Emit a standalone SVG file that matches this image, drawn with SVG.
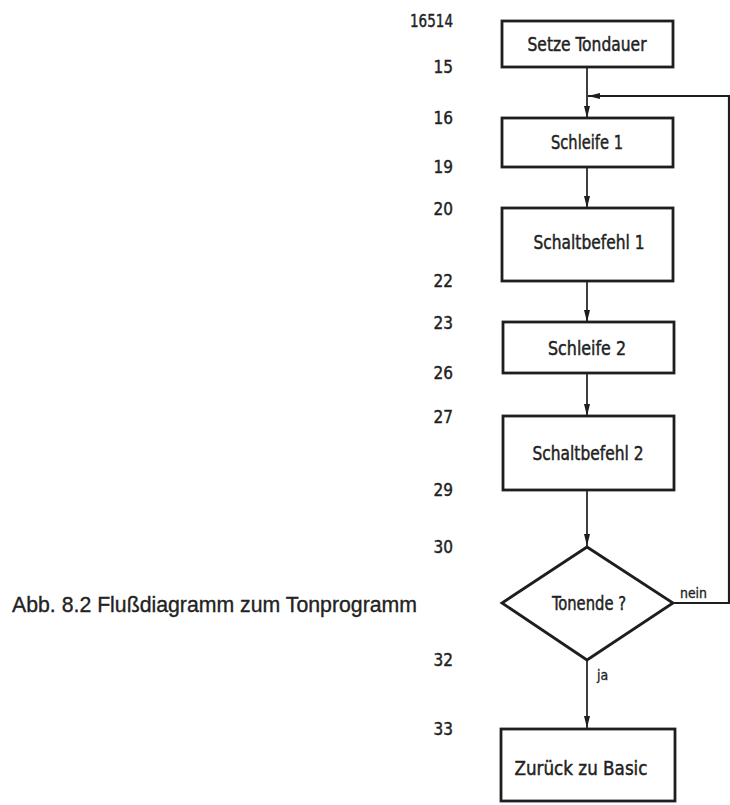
<svg xmlns="http://www.w3.org/2000/svg" width="730" height="805" viewBox="0 0 730 805">
  <style>
    .box { fill: #fff; stroke: #1e1e1e; stroke-width: 2.8; }
    .line { fill: none; stroke: #1e1e1e; stroke-width: 1.7; }
    .lbl { font-family: "DejaVu Sans Condensed", "DejaVu Sans", sans-serif; font-size: 20px; fill: #222; stroke: #222; stroke-width: 0.45; text-anchor: middle; }
    .num { font-family: "DejaVu Sans Condensed", "DejaVu Sans", sans-serif; font-size: 17px; fill: #222; stroke: #222; stroke-width: 0.4; text-anchor: end; }
    .tag { font-family: "DejaVu Sans Condensed", "DejaVu Sans", sans-serif; font-size: 14px; fill: #222; stroke: #222; stroke-width: 0.3; }
    .cap { font-family: "Liberation Sans", Arial, sans-serif; font-size: 22px; fill: #222; stroke: #222; stroke-width: 0.35; }
  </style>
  <defs>
    <marker id="arrow" viewBox="0 0 12 6" refX="12" refY="3" markerWidth="12" markerHeight="6" markerUnits="userSpaceOnUse" orient="auto">
      <path d="M0,0 L12,3 L0,6 Z" fill="#1e1e1e"/>
    </marker>
  </defs>
  <rect width="730" height="805" fill="#fff"/>

  <!-- address labels beside the flow -->
  <g id="addresses">
    <text class="num" x="453" y="27" textLength="43" lengthAdjust="spacingAndGlyphs">16514</text>
    <text class="num" x="453" y="73">15</text>
    <text class="num" x="453" y="124">16</text>
    <text class="num" x="453" y="173">19</text>
    <text class="num" x="453" y="215">20</text>
    <text class="num" x="453" y="287">22</text>
    <text class="num" x="453" y="329">23</text>
    <text class="num" x="453" y="379">26</text>
    <text class="num" x="453" y="423">27</text>
    <text class="num" x="453" y="496">29</text>
    <text class="num" x="453" y="553">30</text>
    <text class="num" x="453" y="666">32</text>
    <text class="num" x="453" y="735">33</text>
  </g>

  <!-- connectors -->
  <g id="connectors">
    <line class="line" x1="587" y1="67" x2="587" y2="118" marker-end="url(#arrow)"/>
    <line class="line" x1="587" y1="167" x2="587" y2="208" marker-end="url(#arrow)"/>
    <line class="line" x1="587" y1="281" x2="587" y2="322" marker-end="url(#arrow)"/>
    <line class="line" x1="587" y1="373" x2="587" y2="416" marker-end="url(#arrow)"/>
    <line class="line" x1="587" y1="490" x2="587" y2="546" marker-end="url(#arrow)"/>
    <line class="line" x1="587" y1="660" x2="587" y2="728" marker-end="url(#arrow)"/>
    <polyline class="line" points="673,603 729,603 729,96 588,96" style="stroke-width:2.2" marker-end="url(#arrow)"/>
    <text class="tag" x="680" y="598" textLength="27" lengthAdjust="spacingAndGlyphs">nein</text>
    <text class="tag" x="597" y="680">ja</text>
  </g>

  <g id="setze-tondauer">
    <rect class="box" x="502" y="21" width="171" height="46"/>
    <text class="lbl" x="587" y="51" textLength="119" lengthAdjust="spacingAndGlyphs">Setze Tondauer</text>
  </g>

  <g id="schleife-1">
    <rect class="box" x="502" y="118" width="171" height="49"/>
    <text class="lbl" x="587" y="149" textLength="72" lengthAdjust="spacingAndGlyphs">Schleife 1</text>
  </g>

  <g id="schaltbefehl-1">
    <rect class="box" x="502" y="208" width="171" height="73"/>
    <text class="lbl" x="589" y="249" textLength="111" lengthAdjust="spacingAndGlyphs">Schaltbefehl 1</text>
  </g>

  <g id="schleife-2">
    <rect class="box" x="503" y="322" width="171" height="51"/>
    <text class="lbl" x="587" y="355" textLength="78" lengthAdjust="spacingAndGlyphs">Schleife 2</text>
  </g>

  <g id="schaltbefehl-2">
    <rect class="box" x="503" y="416" width="171" height="74"/>
    <text class="lbl" x="588" y="460" textLength="111" lengthAdjust="spacingAndGlyphs">Schaltbefehl 2</text>
  </g>

  <g id="tonende">
    <polygon class="box" points="587,547 673,603 587,660 502,603"/>
    <text class="lbl" x="589" y="610" textLength="74" lengthAdjust="spacingAndGlyphs">Tonende ?</text>
  </g>

  <g id="zurueck-zu-basic">
    <rect class="box" x="501" y="729" width="174" height="72"/>
    <text class="lbl" x="581" y="775" textLength="133" lengthAdjust="spacingAndGlyphs">Zurück zu Basic</text>
  </g>

  <g id="caption">
    <text class="cap" x="12" y="612" textLength="405" lengthAdjust="spacingAndGlyphs">Abb. 8.2 Flußdiagramm zum Tonprogramm</text>
  </g>
</svg>
